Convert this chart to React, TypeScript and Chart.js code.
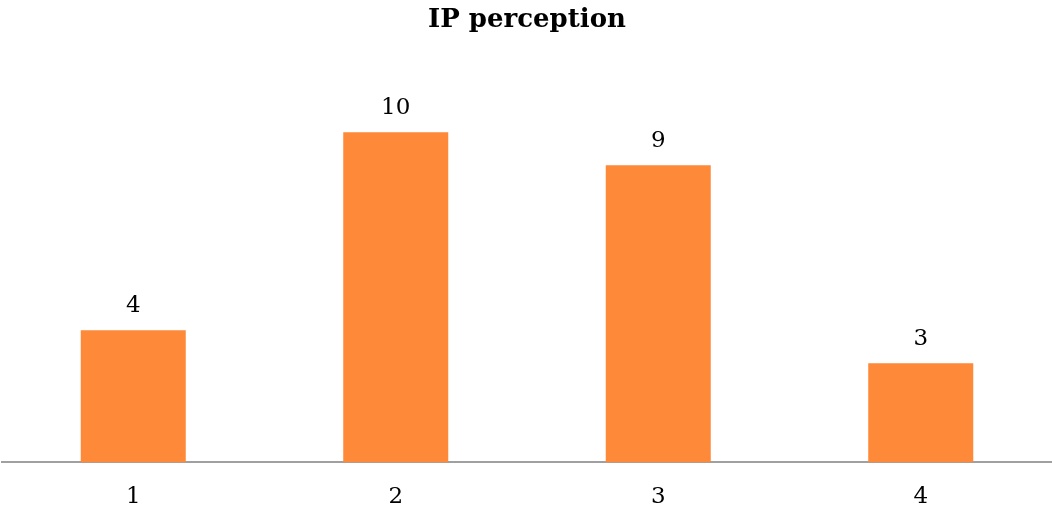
import React, { useEffect, useRef } from "react";
import { Chart, registerables } from "chart.js";

Chart.register(...registerables);

const categories = ["1", "2", "3", "4"];
const values = [4, 10, 9, 3];
const chartTitle = "IP perception";

const FONT = "'DejaVu Serif', 'Liberation Serif', serif";

const valueLabels = {
  id: "valueLabels",
  afterDatasetsDraw(chart: any) {
    const ctx = chart.ctx;
    const meta = chart.getDatasetMeta(0);
    ctx.save();
    ctx.font = `23px ${FONT}`;
    ctx.fillStyle = "#000000";
    ctx.textAlign = "center";
    ctx.textBaseline = "alphabetic";
    meta.data.forEach((bar: any, i: number) => {
      ctx.fillText(String(values[i]), bar.x, bar.y - 18);
    });
    ctx.restore();
  },
};

export default function App() {
  const ref = useRef<HTMLCanvasElement | null>(null);
  useEffect(() => {
    document.body.style.margin = "0";
    const chart = new Chart(ref.current!, {
      type: "bar",
      data: {
        labels: categories,
        datasets: [
          {
            data: values,
            backgroundColor: "#FE8938",
            barPercentage: 0.4,
            categoryPercentage: 1,
          },
        ],
      },
      options: {
        animation: false,
        responsive: false,
        layout: { padding: { top: 0, left: 2, right: 0, bottom: -19 } },
        plugins: {
          legend: { display: false },
          tooltip: { enabled: false },
          title: {
            display: true,
            text: chartTitle,
            color: "#000000",
            font: { family: FONT, size: 26, weight: "bold", lineHeight: 1.2 },
            padding: { top: 5, bottom: 30 },
          },
        },
        scales: {
          x: {
            grid: { display: false, drawTicks: false },
            border: { display: true, color: "#A0A0A0", width: 2 },
            ticks: {
              color: "#000000",
              font: { family: FONT, size: 23 },
              padding: 21,
            },
          },
          y: {
            display: false,
            min: 0,
            max: 12,
          },
        },
      },
      plugins: [valueLabels],
    });
    return () => chart.destroy();
  }, []);
  return (
    <div style={{ width: 1052, height: 513 }}>
      <canvas ref={ref} width={1052} height={513} style={{ display: "block" }} />
    </div>
  );
}
